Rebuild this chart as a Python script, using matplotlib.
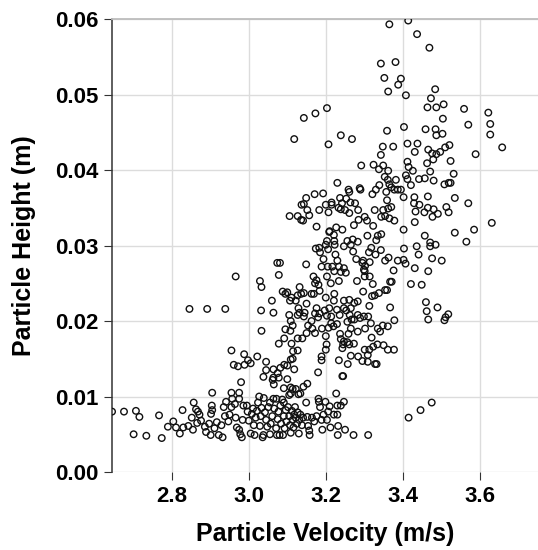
import numpy as np
import matplotlib
matplotlib.use("Agg")
import matplotlib.pyplot as plt

# (velocity m/s, height m) samples, grouped by region of the cloud
upper = [
    (3.364, .0593), (3.413, .0598), (3.436, .0580), (3.468, .0562), (3.342, .0541),
    (3.380, .0543), (3.351, .0522), (3.394, .0521), (3.387, .0513), (3.361, .0504),
    (3.407, .0499), (3.472, .0495), (3.483, .0507), (3.505, .0487), (3.463, .0483),
    (3.486, .0483), (3.558, .0481), (3.621, .0476), (3.626, .0461), (3.626, .0447),
    (3.657, .0430), (3.588, .0421), (3.569, .0460), (3.503, .0468), (3.484, .0454),
    (3.458, .0454), (3.486, .0446), (3.502, .0448), (3.402, .0457), (3.358, .0452),
    (3.411, .0435), (3.437, .0435), (3.430, .0424), (3.347, .0431), (3.374, .0431),
    (3.342, .0420), (3.465, .0427), (3.475, .0422), (3.486, .0421), (3.478, .0414),
    (3.496, .0424), (3.509, .0430), (3.520, .0433), (3.523, .0412), (3.462, .0409),
    (3.470, .0398), (3.456, .0389), (3.479, .0386), (3.531, .0395), (3.507, .0381),
    (3.518, .0383), (3.523, .0383),
]

right_mid = [
    (3.411, .0411), (3.414, .0404), (3.425, .0399), (3.407, .0393), (3.411, .0388),
    (3.441, .0388), (3.420, .0380), (3.394, .0374), (3.401, .0364), (3.429, .0364),
    (3.464, .0365), (3.442, .0354), (3.428, .0356), (3.464, .0350), (3.455, .0344),
    (3.432, .0345), (3.479, .0348), (3.476, .0338), (3.490, .0342), (3.512, .0351),
    (3.518, .0344), (3.534, .0363), (3.569, .0356), (3.630, .0330), (3.584, .0321),
    (3.534, .0317), (3.564, .0305), (3.430, .0331), (3.456, .0313), (3.470, .0304),
    (3.484, .0301), (3.470, .0299), (3.435, .0299), (3.401, .0321), (3.402, .0296),
    (3.440, .0288), (3.475, .0283), (3.500, .0280), (3.465, .0266), (3.430, .0270),
    (3.406, .0276), (3.401, .0281), (3.386, .0280), (3.420, .0249), (3.448, .0248),
    (3.459, .0225), (3.461, .0213), (3.465, .0202), (3.489, .0218), (3.507, .0201),
    (3.510, .0205), (3.517, .0209), (3.414, .0072), (3.445, .0082), (3.474, .0092),
]

high_left = [
    (3.117, .0441), (3.142, .0469), (3.172, .0475), (3.202, .0482), (3.206, .0434),
    (3.238, .0446), (3.267, .0441),
]

core_upper = [
    (3.291, .0406), (3.323, .0407), (3.337, .0401), (3.348, .0406), (3.361, .0399),
    (3.352, .0391), (3.360, .0387), (3.338, .0380), (3.329, .0374), (3.320, .0368),
    (3.364, .0381), (3.369, .0377), (3.377, .0374), (3.356, .0371), (3.358, .0360),
    (3.386, .0374), (3.381, .0387), (3.289, .0374), (3.287, .0376), (3.229, .0383),
    (3.258, .0374), (3.260, .0371), (3.236, .0363), (3.252, .0362), (3.263, .0357),
    (3.275, .0356), (3.283, .0347), (3.241, .0356), (3.232, .0350), (3.238, .0348),
    (3.249, .0347), (3.214, .0357), (3.214, .0354), (3.199, .0354), (3.206, .0344),
    (3.182, .0347), (3.192, .0369), (3.170, .0368), (3.148, .0363), (3.136, .0354),
    (3.142, .0355), (3.151, .0347), (3.126, .0339), (3.105, .0339), (3.135, .0334),
    (3.140, .0333), (3.156, .0340), (3.175, .0325), (3.208, .0318), (3.226, .0324),
    (3.242, .0321), (3.260, .0343), (3.272, .0327), (3.284, .0334), (3.300, .0338),
    (3.306, .0333), (3.326, .0347), (3.322, .0326), (3.343, .0338), (3.353, .0339),
    (3.364, .0336), (3.377, .0333), (3.348, .0347), (3.361, .0349), (3.369, .0351),
]

core_right = [
    (3.307, .0313), (3.334, .0313), (3.330, .0307), (3.343, .0315), (3.342, .0294),
    (3.311, .0291), (3.317, .0297), (3.328, .0288), (3.353, .0280), (3.362, .0284),
    (3.375, .0267), (3.366, .0252), (3.370, .0252), (3.358, .0241), (3.353, .0241),
    (3.366, .0218), (3.377, .0201), (3.360, .0193), (3.347, .0194), (3.340, .0186),
    (3.334, .0190), (3.318, .0178), (3.333, .0169), (3.322, .0166), (3.312, .0162),
    (3.300, .0162), (3.376, .0162), (3.360, .0162), (3.349, .0168), (3.327, .0143),
    (3.331, .0143), (3.308, .0146), (3.294, .0147), (3.283, .0153), (3.264, .0154),
    (3.308, .0155), (3.301, .0190), (3.316, .0197), (3.309, .0206), (3.298, .0206),
    (3.288, .0204), (3.282, .0208), (3.312, .0220), (3.319, .0233), (3.326, .0234),
    (3.337, .0237), (3.296, .0239), (3.280, .0253), (3.300, .0259), (3.313, .0259),
    (3.321, .0249), (3.301, .0273), (3.313, .0278), (3.294, .0277), (3.296, .0280),
    (3.298, .0268), (3.300, .0266), (3.278, .0282), (3.270, .0292), (3.264, .0301),
    (3.269, .0308), (3.282, .0305), (3.255, .0306), (3.246, .0299),
]

core_mid = [
    (3.221, .0306), (3.220, .0314), (3.222, .0301), (3.209, .0319), (3.202, .0306),
    (3.205, .0295), (3.199, .0301), (3.182, .0297), (3.173, .0296), (3.184, .0291),
    (3.224, .0288), (3.229, .0280), (3.233, .0272), (3.216, .0272), (3.204, .0272),
    (3.188, .0272), (3.193, .0282), (3.221, .0266), (3.238, .0265), (3.251, .0264),
    (3.246, .0270), (3.202, .0259), (3.233, .0253), (3.212, .0250), (3.175, .0254),
    (3.171, .0250), (3.180, .0248), (3.168, .0236), (3.183, .0240), (3.199, .0231),
    (3.221, .0236), (3.220, .0227), (3.246, .0227), (3.260, .0228), (3.273, .0224),
    (3.282, .0226), (3.246, .0217), (3.252, .0214), (3.264, .0217), (3.261, .0208),
    (3.266, .0202), (3.273, .0202), (3.255, .0199), (3.264, .0190), (3.282, .0186),
    (3.258, .0183), (3.236, .0183), (3.238, .0176), (3.246, .0173), (3.255, .0172),
    (3.244, .0169), (3.242, .0164), (3.260, .0169), (3.272, .0170), (3.256, .0143),
    (3.233, .0148), (3.242, .0127), (3.244, .0127),
]

core_left = [
    (3.206, .0191), (3.213, .0197), (3.219, .0193), (3.228, .0196), (3.235, .0208),
    (3.213, .0206), (3.208, .0217), (3.228, .0215), (3.196, .0214), (3.202, .0207),
    (3.183, .0210), (3.175, .0217), (3.171, .0210), (3.179, .0205), (3.189, .0190),
    (3.199, .0180), (3.201, .0169), (3.199, .0162), (3.188, .0153), (3.188, .0148),
    (3.179, .0132), (3.171, .0184), (3.164, .0190), (3.153, .0194), (3.162, .0200),
    (3.149, .0184), (3.138, .0177), (3.126, .0177), (3.149, .0223), (3.144, .0211),
    (3.142, .0206), (3.126, .0208), (3.131, .0211), (3.128, .0217), (3.121, .0227),
    (3.126, .0234), (3.135, .0236), (3.142, .0237), (3.131, .0245), (3.148, .0275),
    (3.162, .0236), (3.167, .0259),
]

lower_mid = [
    (3.110, .0231), (3.106, .0227), (3.099, .0238), (3.087, .0239), (3.094, .0236),
    (3.104, .0208), (3.108, .0200), (3.113, .0194), (3.107, .0187), (3.094, .0189),
    (3.091, .0177), (3.077, .0170), (3.110, .0170), (3.114, .0160), (3.126, .0161),
    (3.108, .0149), (3.113, .0150), (3.091, .0142), (3.099, .0141), (3.117, .0136),
    (3.081, .0138), (3.074, .0131), (3.063, .0136), (3.077, .0125), (3.063, .0125),
    (3.061, .0122), (3.064, .0116), (3.099, .0123), (3.108, .0112), (3.113, .0110),
    (3.090, .0111), (3.121, .0110), (3.108, .0104), (3.104, .0102), (3.141, .0113),
    (3.151, .0117), (3.133, .0104), (3.128, .0103), (3.073, .0277), (3.080, .0277),
    (3.077, .0261), (3.059, .0227), (3.063, .0211), (3.028, .0253), (3.032, .0245),
    (3.031, .0214), (3.032, .0187), (2.965, .0259), (2.845, .0216), (2.891, .0216),
    (2.938, .0216), (2.954, .0161), (2.987, .0156), (2.960, .0142), (2.971, .0140),
    (2.988, .0142), (2.997, .0148), (3.004, .0144), (3.021, .0153), (3.044, .0146),
    (3.044, .0135), (3.037, .0126), (2.979, .0119), (2.974, .0105), (2.904, .0105),
    (2.954, .0105),
]

low_band = [
    (2.644, .0080), (2.675, .0080), (2.706, .0081), (2.715, .0073), (2.766, .0075),
    (2.700, .0050), (2.733, .0048), (2.773, .0045), (2.789, .0060), (2.803, .0067),
    (2.810, .0059), (2.820, .0051), (2.827, .0082), (2.829, .0059), (2.842, .0061),
    (2.851, .0072), (2.856, .0092), (2.854, .0056), (2.862, .0083), (2.867, .0080),
    (2.871, .0076), (2.865, .0065), (2.875, .0068), (2.885, .0060), (2.888, .0053),
    (2.896, .0064), (2.903, .0088), (2.904, .0082), (2.901, .0077), (2.900, .0049),
    (2.910, .0058), (2.916, .0066), (2.921, .0049), (2.928, .0062), (2.931, .0046),
    (2.934, .0086), (2.937, .0074), (2.940, .0093), (2.946, .0067), (2.949, .0076),
    (2.954, .0086), (2.956, .0097), (2.963, .0090), (2.965, .0072), (2.968, .0059),
    (2.974, .0097), (2.974, .0056), (2.977, .0050), (2.981, .0046), (2.983, .0069),
    (2.985, .0088), (2.994, .0088), (2.996, .0080), (2.999, .0068), (3.004, .0051),
    (3.007, .0077), (3.010, .0084), (3.012, .0062), (3.014, .0049), (3.017, .0072),
    (3.020, .0081), (3.023, .0092), (3.026, .0100), (3.028, .0061), (3.030, .0074),
    (3.032, .0085), (3.035, .0046), (3.037, .0049), (3.038, .0098), (3.041, .0079),
    (3.044, .0069), (3.047, .0060), (3.050, .0086), (3.054, .0050), (3.056, .0064),
    (3.060, .0074), (3.063, .0097), (3.065, .0084), (3.070, .0058), (3.072, .0049),
    (3.074, .0070), (3.076, .0080), (3.079, .0049), (3.081, .0088), (3.083, .0064),
    (3.086, .0096), (3.088, .0049), (3.090, .0074), (3.092, .0058), (3.095, .0082),
    (3.097, .0067), (3.101, .0086), (3.104, .0074), (3.106, .0062), (3.108, .0052),
    (3.111, .0081), (3.113, .0069), (3.115, .0059), (3.117, .0076), (3.119, .0086),
    (3.121, .0072), (3.124, .0064), (3.126, .0079), (3.129, .0051), (3.130, .0069),
    (3.133, .0076), (3.137, .0062), (3.140, .0072), (3.148, .0092), (3.151, .0073),
    (3.153, .0061), (3.156, .0055), (3.157, .0049), (3.163, .0072), (3.169, .0067),
    (3.175, .0074), (3.180, .0097), (3.181, .0093), (3.184, .0086), (3.188, .0069),
    (3.190, .0056), (3.193, .0076), (3.198, .0093), (3.202, .0069), (3.205, .0080),
    (3.209, .0087), (3.211, .0059), (3.220, .0076), (3.226, .0104), (3.229, .0088),
    (3.229, .0076), (3.231, .0061), (3.230, .0049), (3.238, .0088), (3.246, .0093),
    (3.249, .0056), (3.271, .0049), (3.309, .0049), (3.054, .0092), (3.071, .0097),
    (3.090, .0092),
]

groups = [upper, right_mid, high_left, core_upper, core_right,
          core_mid, core_left, lower_mid, low_band]
pts = np.array([p for g in groups for p in g])
velocity, height = pts[:, 0], pts[:, 1]

x_ticks = [2.8, 3.0, 3.2, 3.4, 3.6]
y_ticks = [0.00, 0.01, 0.02, 0.03, 0.04, 0.05, 0.06]

plt.rcParams['font.family'] = ['Liberation Sans', 'DejaVu Sans']

fig = plt.figure(figsize=(5.38, 5.50), dpi=100)
ax = fig.add_axes([0.209, 0.1418, 0.791, 0.8236])

ax.scatter(velocity, height, s=22, facecolors='none', edgecolors='#111111',
           linewidths=1.0, zorder=3)

ax.set_xlim(2.645, 3.75)
ax.set_ylim(0.0, 0.06)
ax.set_xticks(x_ticks)
ax.set_xticklabels([f"{v:.1f}" for v in x_ticks])
ax.set_yticks(y_ticks)
ax.set_yticklabels([f"{v:.2f}" for v in y_ticks])

ax.grid(True, color='#dcdcdc', linewidth=1.0, zorder=0)
ax.set_axisbelow(True)

for side in ['right', 'bottom']:
    ax.spines[side].set_visible(False)
ax.spines['left'].set_color('#333333')
ax.spines['left'].set_linewidth(1.1)
ax.spines['top'].set_color('#bdbdbd')
ax.spines['top'].set_linewidth(1.3)

ax.tick_params(axis='both', direction='out', length=5.5, width=0.8, color='#333333',
               labelsize=16, pad=4.5)
for lab in ax.get_xticklabels() + ax.get_yticklabels():
    lab.set_fontweight('bold')

ax.set_xlabel('Particle Velocity (m/s)', fontsize=18, fontweight='bold', labelpad=11)
ax.set_ylabel('Particle Height (m)', fontsize=18, fontweight='bold', labelpad=14)

fig.savefig('out.png', dpi=100)
